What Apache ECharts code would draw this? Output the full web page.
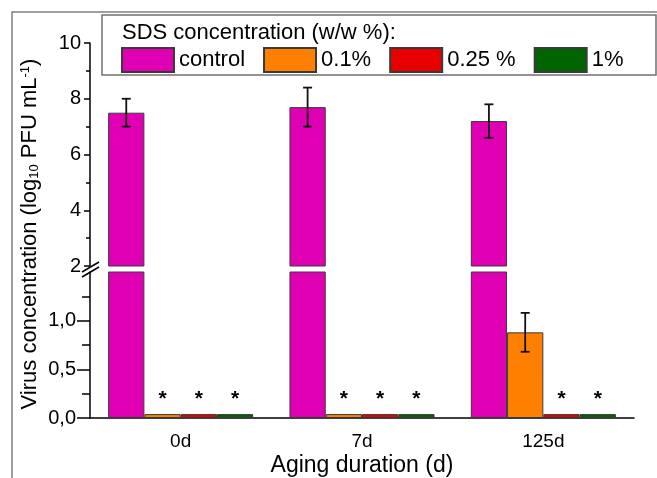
<!DOCTYPE html>
<html>
<head>
<meta charset="utf-8">
<title>Virus concentration vs aging</title>
<script src="https://cdn.jsdelivr.net/npm/echarts@6/dist/echarts.min.js"></script>
<style>
    html, body { margin: 0; padding: 0; background: #fff; }
    #chart { width: 657px; height: 478px; }
</style>
</head>
<body>
<div id="chart"></div>
<script>
// data
var categories = ['0d', '7d', '125d'];
var seriesNames = ['control', '0.1%', '0.25 %', '1%'];
var control = [7.5, 7.7, 7.2];
var controlErr = [0.5, 0.7, 0.6];
var sds01 = [0.04, 0.04, 0.88];
var sds01Err = [0, 0, 0.2];
var sds025 = [0.04, 0.04, 0.04];
var sds1 = [0.04, 0.04, 0.04];
var upperTicks = [2, 4, 6, 8, 10];
var lowerTicks = [0, 0.5, 1.0];
var detectionLimit = 0.04;

(function () {
    var myChart = echarts.init(document.getElementById('chart'));
    var font = 'Liberation Sans, Arial, sans-serif';
    var colors = ['#e000b4', '#ff8000', '#e80000', '#006400'];
    var values = [control, sds01, sds025, sds1];

    // layout of the broken axis (upper part 2..10, lower part 0..1.5)
    var left = 90, right = 23;
    var upperTop = 43, upperBottom = 266, lowerTop = 272, lowerBottom = 419;
    var black = { color: '#000', width: 1.5 };

    // I shaped error bar, centred on bar "pos" of the group
    function errorBar(pos) {
        return function (params, api) {
            var k = api.value(0);
            var band = api.size([1, 0])[0];
            var barW = band * 0.8 / 4;
            var cx = api.coord([k, 0])[0] + (pos - 1.5) * barW;
            var yTop = api.coord([k, api.value(2)])[1];
            var yBot = api.coord([k, api.value(1)])[1];
            var half = 4.5;
            var st = { stroke: '#111', lineWidth: 1.8 };
            return {
                type: 'group',
                children: [
                    { type: 'line', shape: { x1: cx, y1: yTop, x2: cx, y2: yBot }, style: st },
                    { type: 'line', shape: { x1: cx - half, y1: yTop, x2: cx + half, y2: yTop }, style: st },
                    { type: 'line', shape: { x1: cx - half, y1: yBot, x2: cx + half, y2: yBot }, style: st }
                ]
            };
        };
    }

    var series = [];
    for (var g = 0; g < 2; g++) {
        for (var i = 0; i < 4; i++) {
            series.push({
                name: seriesNames[i],
                type: 'bar',
                xAxisIndex: g === 0 ? 0 : 1,
                yAxisIndex: g,
                data: values[i],
                barGap: '0%',
                barCategoryGap: '20%',
                clip: true,
                itemStyle: { color: colors[i], borderColor: '#3a3a3a', borderWidth: 1 },
                emphasis: { disabled: true },
                // asterisk over the groups below the detection limit
                label: {
                    show: g === 1 && i > 0,
                    position: 'top',
                    distance: 4,
                    fontSize: 21,
                    fontWeight: 'bold',
                    color: '#000',
                    formatter: function (p) {
                        return p.value <= detectionLimit ? '*' : '';
                    }
                }
            });
        }
    }

    var controlBars = [], sds01Bars = [];
    for (var k = 0; k < categories.length; k++) {
        controlBars.push([k, control[k] - controlErr[k], control[k] + controlErr[k]]);
        if (sds01Err[k] > 0) {
            sds01Bars.push([k, sds01[k] - sds01Err[k], sds01[k] + sds01Err[k]]);
        }
    }
    series.push({
        type: 'custom', xAxisIndex: 0, yAxisIndex: 0, z: 10,
        encode: { x: 0, y: [1, 2] },
        renderItem: errorBar(0), data: controlBars
    });
    series.push({
        type: 'custom', xAxisIndex: 1, yAxisIndex: 1, z: 10,
        encode: { x: 0, y: [1, 2] },
        renderItem: errorBar(1), data: sds01Bars
    });

    var option = {
        animation: false,
        textStyle: { fontFamily: font, color: '#000' },
        grid: [
            { left: left, right: right, top: upperTop, height: upperBottom - upperTop },
            { left: left, right: right, top: lowerTop, height: lowerBottom - lowerTop }
        ],
        legend: {
            data: seriesNames,
            left: 121,
            top: 47,
            padding: 0,
            itemWidth: 52,
            itemHeight: 24,
            itemGap: 18,
            icon: 'rect',
            selectedMode: false,
            textStyle: { fontSize: 22, color: '#000', fontFamily: font }
        },
        xAxis: [
            { gridIndex: 0, type: 'category', data: categories, show: false },
            {
                gridIndex: 1, type: 'category', data: categories,
                axisLine: { lineStyle: black },
                axisTick: { alignWithLabel: true, length: 8, lineStyle: black },
                axisLabel: { color: '#000', fontSize: 19, margin: 14 },
                name: 'Aging duration (d)',
                nameLocation: 'middle',
                nameGap: 36,
                nameTextStyle: { color: '#000', fontSize: 23 }
            },
            {
                // small ticks between the groups
                gridIndex: 1, type: 'category', data: categories, position: 'bottom',
                axisLine: { show: false },
                axisTick: { length: 4, lineStyle: black },
                axisLabel: { show: false }
            }
        ],
        yAxis: [
            {
                gridIndex: 0, type: 'value', min: 2, max: 10, interval: 2,
                axisLine: { show: true, lineStyle: black },
                axisTick: { show: true, length: 6, customValues: upperTicks, lineStyle: black },
                minorTick: { show: true, splitNumber: 2, length: 4, lineStyle: black },
                axisLabel: { customValues: upperTicks, fontSize: 20, color: '#000', margin: 9 },
                splitLine: { show: false }
            },
            {
                gridIndex: 1, type: 'value', min: 0, max: 1.5, interval: 0.5,
                axisLine: { show: true, lineStyle: black },
                axisTick: { show: true, length: 13, customValues: lowerTicks, lineStyle: black },
                minorTick: { show: true, splitNumber: 2, length: 8, lineStyle: black },
                axisLabel: {
                    customValues: lowerTicks, fontSize: 20, color: '#000', margin: 14,
                    formatter: function (v) { return v.toFixed(1).replace('.', ','); }
                },
                splitLine: { show: false }
            }
        ],
        graphic: [
            // frame of the figure
            {
                type: 'rect', z: 0, silent: true,
                shape: { x: 12, y: 12, width: 700, height: 500 },
                style: { fill: 'none', stroke: '#808080', lineWidth: 1.5 }
            },
            // legend box and its title
            {
                type: 'rect', z: 1, silent: true,
                shape: { x: 102, y: 15, width: 554, height: 60 },
                style: { fill: '#fff', stroke: '#707070', lineWidth: 1.5 }
            },
            {
                type: 'text', z: 2, x: 122, y: 33,
                style: {
                    text: 'SDS concentration (w/w %):', fontSize: 22, fontFamily: font,
                    fill: '#000', verticalAlign: 'middle'
                }
            },
            // y axis title
            {
                type: 'text', z: 2, x: 30, y: 234, rotation: Math.PI / 2,
                style: {
                    text: 'Virus concentration (log{sub|10} PFU mL{sup|-1})',
                    fontSize: 22, fontFamily: font, fill: '#000',
                    align: 'center', verticalAlign: 'middle',
                    rich: {
                        sub: { fontSize: 13, fontFamily: font, fill: '#000', verticalAlign: 'bottom' },
                        sup: { fontSize: 13, fontFamily: font, fill: '#000', verticalAlign: 'top' }
                    }
                }
            },
            // axis break marks
            {
                type: 'line', z: 5,
                shape: { x1: left - 8, y1: upperBottom + 6, x2: left + 9, y2: upperBottom - 4 },
                style: { stroke: '#000', lineWidth: 1.5 }
            },
            {
                type: 'line', z: 5,
                shape: { x1: left - 8, y1: lowerTop + 5, x2: left + 9, y2: lowerTop - 5 },
                style: { stroke: '#000', lineWidth: 1.5 }
            }
        ],
        series: series
    };
    myChart.setOption(option);
    window.addEventListener('resize', function () {
        myChart.resize();
    });
})();
</script>
</body>
</html>
